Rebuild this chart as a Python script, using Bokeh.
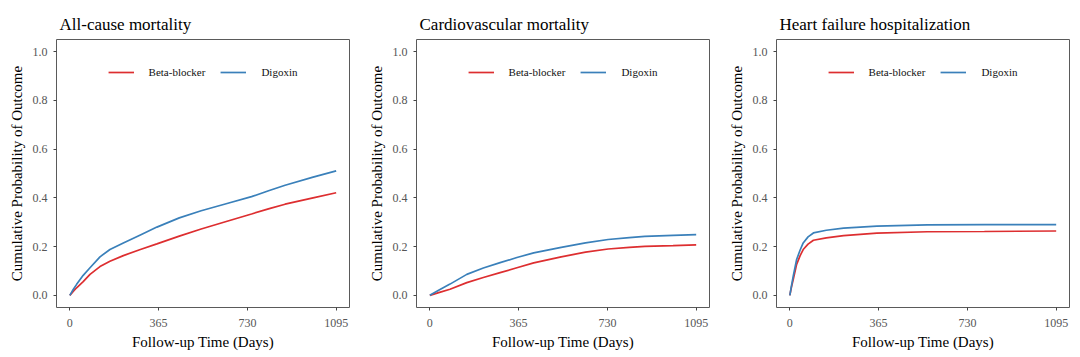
from bokeh.plotting import figure
from bokeh.layouts import row
from bokeh.models import Range1d, FixedTicker, PrintfTickFormatter, Legend, LegendItem
from bokeh.embed import file_html
from bokeh.resources import INLINE

# ---- data ----
titles = ["All-cause mortality", "Cardiovascular mortality", "Heart failure hospitalization"]
groups = ["Beta-blocker", "Digoxin"]
x_ticks = [0, 365, 730, 1095]
y_ticks = [0.0, 0.2, 0.4, 0.6, 0.8, 1.0]

days_ac = [0, 14, 28, 55, 83, 124, 165, 220, 290, 358, 450, 540, 650, 747, 820, 885, 1000, 1095]
beta_ac = [0, 0.016, 0.031, 0.056, 0.086, 0.118, 0.140, 0.163, 0.188, 0.211, 0.243, 0.272, 0.305, 0.334, 0.356, 0.374, 0.400, 0.421]
digo_ac = [0, 0.024, 0.045, 0.082, 0.113, 0.158, 0.188, 0.215, 0.248, 0.280, 0.318, 0.347, 0.378, 0.405, 0.430, 0.452, 0.485, 0.511]

days_cv = [0, 40, 83, 152, 220, 289, 358, 427, 540, 640, 733, 820, 884, 1000, 1095]
beta_cv = [0, 0.012, 0.025, 0.052, 0.073, 0.093, 0.113, 0.133, 0.158, 0.177, 0.190, 0.197, 0.201, 0.204, 0.207]
digo_cv = [0, 0.023, 0.046, 0.086, 0.112, 0.134, 0.155, 0.174, 0.197, 0.215, 0.229, 0.237, 0.242, 0.246, 0.249]

days_hf = [0, 7, 14, 28, 42, 55, 75, 97, 150, 221, 358, 565, 800, 1095]
beta_hf = [0, 0.035, 0.065, 0.127, 0.162, 0.188, 0.210, 0.226, 0.236, 0.245, 0.255, 0.261, 0.262, 0.264]
digo_hf = [0, 0.040, 0.079, 0.147, 0.185, 0.215, 0.240, 0.256, 0.267, 0.276, 0.284, 0.289, 0.290, 0.290]

series = [
    (days_ac, beta_ac, digo_ac),
    (days_cv, beta_cv, digo_cv),
    (days_hf, beta_hf, digo_hf),
]

colors = ["#DD2E30", "#3A80BA"]
FONT = "Liberation Serif"

figs = []
for i, (title, (d, b, g)) in enumerate(zip(titles, series)):
    p = figure(frame_width=293, frame_height=268,
               x_range=Range1d(-54.75, 1149.75), y_range=Range1d(-0.05, 1.05),
               output_backend="svg", toolbar_location=None,
               min_border_left=56, min_border_right=11,
               min_border_top=39, min_border_bottom=50,
               background_fill_color="white", border_fill_color="white")
    p.title.text = title
    p.title.text_font = FONT
    p.title.text_font_size = "17px"
    p.title.text_font_style = "normal"
    p.title.text_color = "black"
    p.title.align = "left"
    p.title.offset = 3
    p.title.standoff = 12

    r1 = p.line(d, b, line_color=colors[0], line_width=1.7)
    r2 = p.line(d, g, line_color=colors[1], line_width=1.7)

    p.xgrid.visible = False
    p.ygrid.visible = False
    p.outline_line_color = "#5a5a5a"
    p.outline_line_width = 1

    p.xaxis.ticker = FixedTicker(ticks=x_ticks)
    p.yaxis.ticker = FixedTicker(ticks=y_ticks)
    p.yaxis.formatter = PrintfTickFormatter(format="%.1f")
    p.xaxis.axis_label = "Follow-up Time (Days)"
    p.yaxis.axis_label = "Cumulative Probability of Outcome"
    for ax in (p.xaxis, p.yaxis):
        ax.axis_line_color = None
        ax.major_tick_line_color = "#444444"
        ax.major_tick_in = 0
        ax.major_tick_out = 3
        ax.minor_tick_line_color = None
        ax.major_label_text_font = FONT
        ax.major_label_text_font_size = "12px"
        ax.major_label_text_color = "#555555"
        ax.axis_label_text_font = FONT
        ax.axis_label_text_font_size = "15px"
        ax.axis_label_text_font_style = "normal"
        ax.axis_label_text_color = "black"
    p.xaxis.major_label_standoff = 8
    p.xaxis.axis_label_standoff = 4
    p.yaxis.major_label_standoff = 6
    p.yaxis.axis_label_standoff = 5

    legend = Legend(items=[LegendItem(label=groups[0], renderers=[r1]),
                           LegendItem(label=groups[1], renderers=[r2])],
                    orientation="horizontal", location="top_center",
                    margin=23, padding=0, spacing=15, label_standoff=15,
                    glyph_width=26, glyph_height=20, label_height=20,
                    label_text_font=FONT, label_text_font_size="11px",
                    label_text_color="#111111",
                    border_line_color=None, background_fill_alpha=0)
    p.add_layout(legend, "center")
    figs.append(p)

layout = row(*figs)
open("out.html", "w").write(file_html(layout, INLINE))
